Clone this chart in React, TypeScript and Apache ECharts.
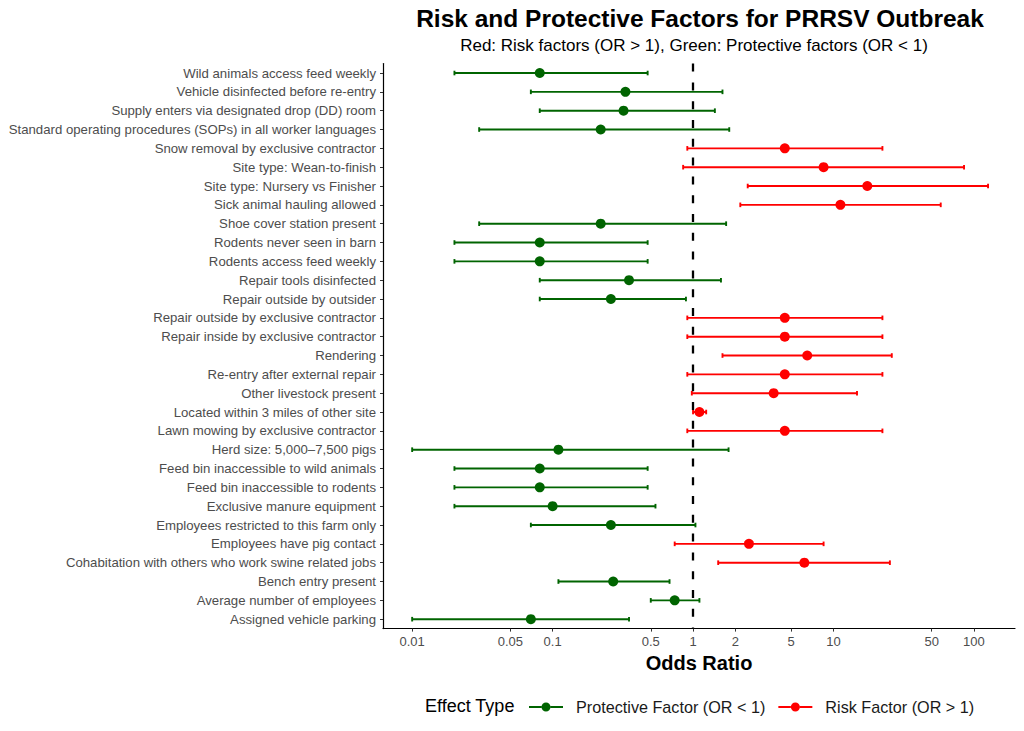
import React, { useEffect, useRef } from "react";
import * as echarts from "echarts";

const factors = [
  "Wild animals access feed weekly",
  "Vehicle disinfected before re-entry",
  "Supply enters via designated drop (DD) room",
  "Standard operating procedures (SOPs) in all worker languages",
  "Snow removal by exclusive contractor",
  "Site type: Wean-to-finish",
  "Site type: Nursery vs Finisher",
  "Sick animal hauling allowed",
  "Shoe cover station present",
  "Rodents never seen in barn",
  "Rodents access feed weekly",
  "Repair tools disinfected",
  "Repair outside by outsider",
  "Repair outside by exclusive contractor",
  "Repair inside by exclusive contractor",
  "Rendering",
  "Re-entry after external repair",
  "Other livestock present",
  "Located within 3 miles of other site",
  "Lawn mowing by exclusive contractor",
  "Herd size: 5,000–7,500 pigs",
  "Feed bin inaccessible to wild animals",
  "Feed bin inaccessible to rodents",
  "Exclusive manure equipment",
  "Employees restricted to this farm only",
  "Employees have pig contact",
  "Cohabitation with others who work swine related jobs",
  "Bench entry present",
  "Average number of employees",
  "Assigned vehicle parking",
];

const oddsRatio = [
  0.081, 0.33, 0.32, 0.22, 4.5, 8.5, 17.4, 11.2, 0.22, 0.081,
  0.081, 0.35, 0.26, 4.5, 4.5, 6.5, 4.5, 3.75, 1.11, 4.5,
  0.11, 0.081, 0.081, 0.1, 0.26, 2.5, 6.2, 0.27, 0.74, 0.07,
];

const ciLower = [
  0.02, 0.07, 0.081, 0.03, 0.91, 0.85, 2.45, 2.17, 0.03, 0.02,
  0.02, 0.081, 0.081, 0.91, 0.91, 1.62, 0.91, 0.98, 1.0, 0.91,
  0.01, 0.02, 0.02, 0.02, 0.07, 0.74, 1.51, 0.11, 0.5, 0.01,
];

const ciUpper = [
  0.475, 1.62, 1.43, 1.81, 22.3, 85, 126, 58, 1.72, 0.475,
  0.475, 1.58, 0.89, 22.3, 22.3, 26, 22.3, 14.7, 1.24, 22.3,
  1.79, 0.475, 0.475, 0.54, 1.04, 8.5, 25.2, 0.68, 1.11, 0.35,
];

const xTicks = [0.01, 0.05, 0.1, 0.5, 1, 2, 5, 10, 50, 100];

const PROTECTIVE = "Protective Factor (OR < 1)";
const RISK = "Risk Factor (OR > 1)";
const GREEN = "#006400";
const RED = "#FF0000";
const FONT = "Liberation Sans, Arial, sans-serif";

const legendIcon =
  "path://M0,4 L12.5,4 L12.5,6 L0,6 Z M21.5,4 L34,4 L34,6 L21.5,6 Z M21.5,5 A4.5,4.5 0 1 1 12.5,5 A4.5,4.5 0 1 1 21.5,5 Z";

function buildRows(risk: boolean) {
  const pts: any[] = [];
  const bars: any[] = [];
  factors.forEach((f, i) => {
    const isRisk = oddsRatio[i] > 1;
    if (isRisk !== risk) return;
    pts.push([oddsRatio[i], f]);
    bars.push([ciLower[i], ciUpper[i], f]);
  });
  return { pts, bars };
}

function errorBarRender(color: string) {
  return (params: any, api: any) => {
    const lo = api.coord([api.value(0), api.value(2)]);
    const hi = api.coord([api.value(1), api.value(2)]);
    const y = lo[1];
    const cap = 2.3;
    const style = { stroke: color, lineWidth: 1.9 };
    return {
      type: "group",
      children: [
        { type: "line", shape: { x1: lo[0], y1: y, x2: hi[0], y2: y }, style },
        { type: "line", shape: { x1: lo[0], y1: y - cap, x2: lo[0], y2: y + cap }, style },
        { type: "line", shape: { x1: hi[0], y1: y - cap, x2: hi[0], y2: y + cap }, style },
      ],
    };
  };
}

export default function App() {
  const ref = useRef<HTMLDivElement>(null);

  useEffect(() => {
    document.body.style.margin = "0";
    if (!ref.current) return;
    const chart = echarts.init(ref.current, undefined, { renderer: "svg" });
    const prot = buildRows(false);
    const risk = buildRows(true);

    const option: any = {
      animation: false,
      backgroundColor: "#ffffff",
      textStyle: { fontFamily: FONT },
      title: [
        {
          text: "Risk and Protective Factors for PRRSV Outbreak",
          left: 695,
          top: 1,
          textAlign: "center",
          textStyle: { fontFamily: FONT, fontSize: 24.5, fontWeight: "bold", color: "#000" },
        },
        {
          text: "Red: Risk factors (OR > 1), Green: Protective factors (OR < 1)",
          left: 689,
          top: 32,
          textAlign: "center",
          textStyle: { fontFamily: FONT, fontSize: 17, fontWeight: "normal", color: "#000" },
        },
      ],
      grid: { left: 383, right: 9, top: 63.6, height: 565, containLabel: false },
      xAxis: {
        type: "log",
        logBase: 10,
        min: 0.0062,
        max: 196,
        name: "Odds Ratio",
        nameLocation: "middle",
        nameGap: 23,
        nameTextStyle: { fontFamily: FONT, fontSize: 20, fontWeight: "bold", color: "#000" },
        splitLine: { show: false },
        axisLine: { show: true, lineStyle: { color: "#000", width: 1.2 } },
        axisTick: { show: true, length: 3, customValues: xTicks, lineStyle: { color: "#333", width: 1 } },
        axisLabel: {
          show: true,
          customValues: xTicks,
          color: "#4d4d4d",
          fontSize: 13,
          margin: 6,
          fontFamily: FONT,
          formatter: (v: number) => String(v),
        },
      },
      yAxis: {
        type: "category",
        data: factors,
        inverse: true,
        axisLine: { show: true, lineStyle: { color: "#000", width: 1.2 } },
        axisTick: { show: true, length: 3, alignWithLabel: true, lineStyle: { color: "#333", width: 1 } },
        axisLabel: { color: "#4d4d4d", fontSize: 13.2, margin: 7, fontFamily: FONT },
        splitLine: { show: false },
      },
      legend: {
        left: 524,
        top: 694,
        itemWidth: 34,
        itemHeight: 9,
        itemGap: 13,
        textStyle: { fontFamily: FONT, fontSize: 16.2, color: "#1a1a1a", padding: [0, 0, 0, 8] },
        data: [
          { name: PROTECTIVE, icon: legendIcon, itemStyle: { color: GREEN } },
          { name: RISK, icon: legendIcon, itemStyle: { color: RED } },
        ],
      },
      graphic: [
        {
          type: "text",
          left: 425,
          top: 697,
          style: { text: "Effect Type", fontFamily: FONT, fontSize: 18, fill: "#000" },
        },
      ],
      series: [
        {
          name: PROTECTIVE,
          type: "custom",
          renderItem: errorBarRender(GREEN),
          itemStyle: { color: GREEN },
          encode: { x: [0, 1], y: 2 },
          data: prot.bars,
          z: 2,
        },
        {
          name: RISK,
          type: "custom",
          renderItem: errorBarRender(RED),
          itemStyle: { color: RED },
          encode: { x: [0, 1], y: 2 },
          data: risk.bars,
          z: 2,
        },
        {
          name: PROTECTIVE,
          type: "scatter",
          symbol: "circle",
          symbolSize: 10,
          itemStyle: { color: GREEN, opacity: 1 },
          data: prot.pts,
          z: 3,
          markLine: {
            silent: true,
            symbol: ["none", "none"],
            label: { show: false },
            lineStyle: { color: "#000", width: 2.3, type: [8, 10.8] },
            data: [{ xAxis: 1 }],
          },
        },
        {
          name: RISK,
          type: "scatter",
          symbol: "circle",
          symbolSize: 10,
          itemStyle: { color: RED, opacity: 1 },
          data: risk.pts,
          z: 3,
        },
      ],
    };
    chart.setOption(option);
    return () => chart.dispose();
  }, []);

  return <div ref={ref} style={{ width: 1024, height: 731 }} />;
}
